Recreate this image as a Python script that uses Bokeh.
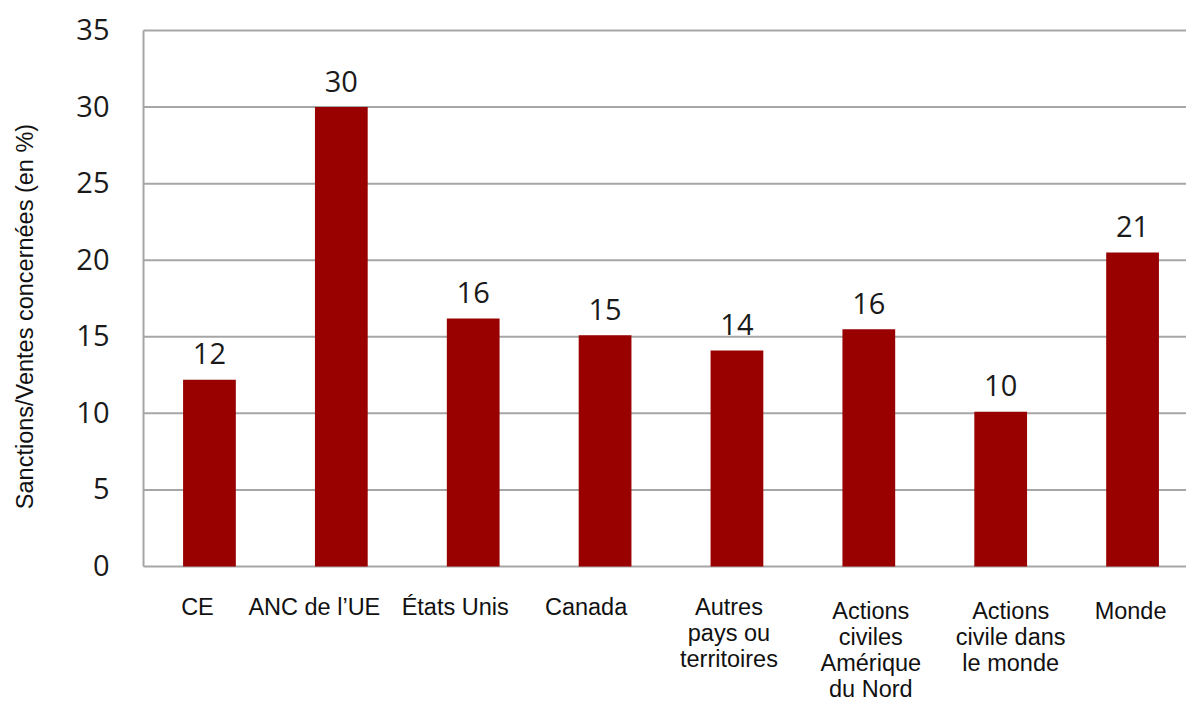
import math
from bokeh.plotting import figure
from bokeh.models import Range1d, ColumnDataSource
from bokeh.core.properties import value
from bokeh.embed import file_html
from bokeh.resources import INLINE

categories = ["CE", "ANC de l’UE", "États Unis", "Canada",
              "Autres\npays ou\nterritoires",
              "Actions\nciviles\nAmérique\ndu Nord",
              "Actions\ncivile dans\nle monde", "Monde"]
values = [12.2, 30.0, 16.2, 15.1, 14.1, 15.5, 10.1, 20.5]
value_labels = ["12", "30", "16", "15", "14", "16", "10", "21"]
y_ticks = [0, 5, 10, 15, 20, 25, 30, 35]
y_tick_labels = [str(t) for t in y_ticks]
y_title = "Sanctions/Ventes concernées (en %)"

# ---- layout (pixels / range padding) ----
X_START, X_END = -1.5845, 7.409      # frame covers the whole canvas
Y_START, Y_END = -9.011, 36.959
label_dx = [-12, -27, -18, -19, -8, 2, 10, -2]
label_first_baseline = [40, 40, 40, 40, 40, 44, 44, 44]
line_step = 26
grid_color = "#a6a6a6"
text_color = "#1a1a1a"

xs = list(range(len(categories)))
left_edge = xs[0] - 0.5

src = ColumnDataSource(dict(x=xs, top=values, lab=value_labels))

lx, ly, lt, ldx, ldy = [], [], [], [], []
for i, c in enumerate(categories):
    for j, line in enumerate(c.split("\n")):
        lx.append(xs[i])
        ly.append(y_ticks[0])
        lt.append(line)
        ldx.append(label_dx[i])
        ldy.append(label_first_baseline[i] + j * line_step)
cat_src = ColumnDataSource(dict(x=lx, y=ly, t=lt, dx=ldx, dy=ldy))

tick_src = ColumnDataSource(dict(x=[left_edge] * len(y_ticks), y=y_ticks,
                                 t=y_tick_labels))

p = figure(width=1186, height=704, output_backend="svg", toolbar_location=None,
           x_range=Range1d(X_START, X_END), y_range=Range1d(Y_START, Y_END),
           x_axis_location=None, y_axis_location=None,
           min_border=0)
p.outline_line_color = None
p.background_fill_color = "white"
p.border_fill_color = "white"
p.grid.visible = False

# horizontal grid lines (from the tick list), plotting area only
p.segment(x0=[left_edge] * len(y_ticks), x1=[X_END] * len(y_ticks),
          y0=y_ticks, y1=y_ticks, line_color=grid_color, line_width=2)
# left axis line
p.segment(x0=[left_edge], x1=[left_edge], y0=[y_ticks[0]], y1=[y_ticks[-1]],
          line_color=grid_color, line_width=2)

p.vbar(x="x", top="top", width=0.4, bottom=0, source=src,
       fill_color="#990000", line_color=None)

# value labels
p.text(x="x", y="top", text="lab", source=src, text_align="center",
       text_baseline="alphabetic", y_offset=-26,
       text_font=value("Open Sans"), text_font_size="29px", text_color=text_color)

# y tick labels
p.text(x="x", y="y", text="t", source=tick_src, text_align="right",
       text_baseline="middle", x_offset=-34, y_offset=-1,
       text_font=value("Open Sans"), text_font_size="29px", text_color=text_color)

# y axis title
p.text(x=[X_START], y=[(y_ticks[0] + y_ticks[-1]) / 2], text=[y_title],
       angle=math.pi / 2, text_align="center", text_baseline="middle",
       x_offset=24, y_offset=18,
       text_font=value("Liberation Sans"), text_font_size="23.5px",
       text_color="#111111")

# category labels, one row per text line
p.text(x="x", y="y", text="t", source=cat_src, x_offset="dx", y_offset="dy",
       text_align="center", text_baseline="alphabetic",
       text_font=value("Liberation Sans"), text_font_size="23.5px",
       text_color="#111111")

open("out.html", "w").write(file_html(p, INLINE))
